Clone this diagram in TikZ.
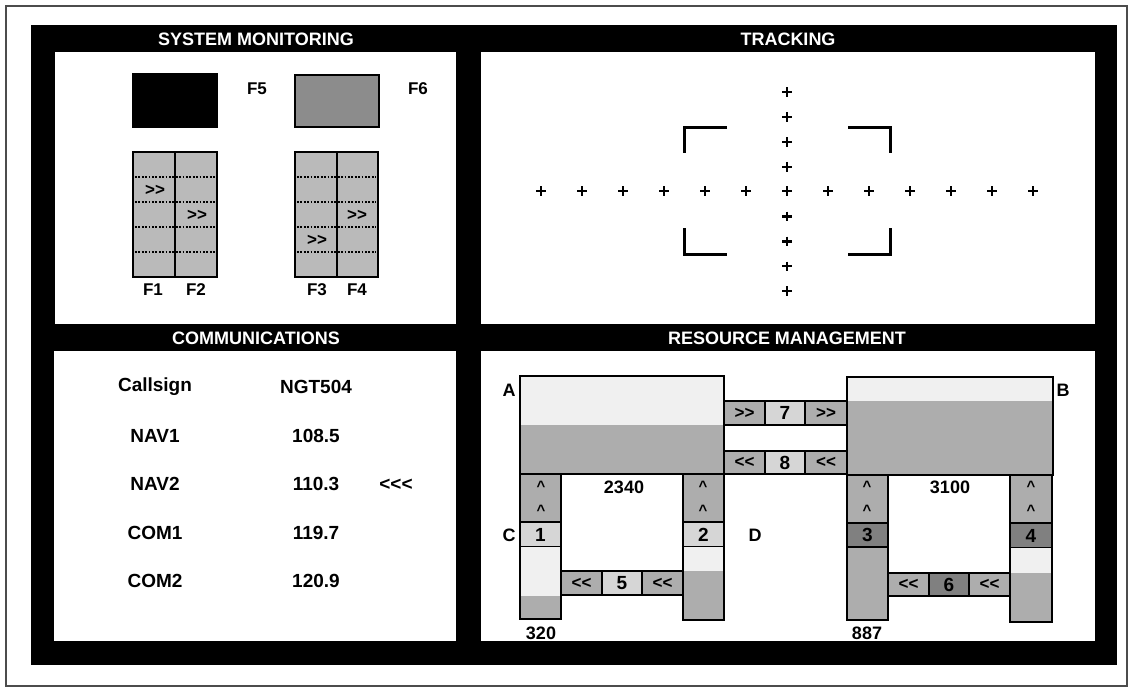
\documentclass[tikz,border=0pt]{standalone}
\usepackage{fontspec}
\setmainfont{Liberation Sans}[Ligatures=TeXOff]
\definecolor{midgray}{gray}{0.68}
\definecolor{lightcell}{gray}{0.84}
\definecolor{papergray}{gray}{0.94}
\definecolor{darkcell}{gray}{0.50}
\definecolor{fsix}{gray}{0.55}
\definecolor{fcol}{gray}{0.73}
\definecolor{framegray}{gray}{0.30}
\newcommand{\rbox}[7][]{%
 \pgfmathsetmacro\rbcx{(#3+#5)/2}%
 \pgfmathsetmacro\rbcy{(#4+#6)/2}%
 \pgfmathsetmacro\rbw{abs(#5-#3)}%
 \pgfmathsetmacro\rbh{abs(#6-#4)}%
 \node[cellbox,#1,minimum width=\rbw pt,minimum height=\rbh pt] (#2) at (\rbcx,\rbcy) {#7};}
\newcommand{\rightarr}{>{}>}
\newcommand{\leftarr}{<{}<}
\tikzset{
 cellbox/.style={draw=black,line width=1.6pt,inner sep=0pt,outer sep=0pt,
   font=\bfseries\fontsize{17}{17}\selectfont},
 hdr/.style={text=white,font=\bfseries\fontsize{18}{20}\selectfont,inner sep=0pt},
 lbl/.style={font=\bfseries\fontsize{18}{20}\selectfont,inner sep=0pt},
 flbl/.style={font=\bfseries\fontsize{17}{19}\selectfont,inner sep=0pt},
 com/.style={font=\bfseries\fontsize{19}{21}\selectfont,inner sep=0pt},
 arr/.style={font=\bfseries\fontsize{17}{18}\selectfont,inner sep=0pt},
 arrcell/.style={font=\bfseries\fontsize{17}{18}\selectfont},
 numcell/.style={font=\bfseries\fontsize{19}{19}\selectfont},
 caret/.style={font=\bfseries\fontsize{15}{17}\selectfont,inner sep=0pt},
 crossmk/.pic={\draw[line width=2.2pt] (-4.8,0)--(4.8,0) (0,-4.8)--(0,4.8);},
 bracket/.style={line width=3pt},
 dotline/.style={line width=1.8pt,dash pattern=on 1.8pt off 1.6pt}
}
\begin{document}
\begin{tikzpicture}[x=1pt,y=-1pt]
\useasboundingbox (0,0) rectangle (1132,689);
% outer frame and panels
\draw[framegray,line width=1.2pt] (6,6) rectangle (1127,686);
\fill[black] (31,25) rectangle (1117,665);
\fill[white] (55,52) rectangle (456,324);
\fill[white] (481,52) rectangle (1095,324);
\fill[white] (54,351) rectangle (456,641);
\fill[white] (481,351) rectangle (1095,641);
\node[hdr] (hSM) at (256,39) {SYSTEM MONITORING};
\node[hdr] (hTR) at (788,39) {TRACKING};
\node[hdr] (hCO) at (256,338) {COMMUNICATIONS};
\node[hdr] (hRM) at (787,338) {RESOURCE MANAGEMENT};

% ---------- SYSTEM MONITORING ----------
\rbox[fill=black]{f5box}{133}{74}{217}{127}{}
\node[flbl] (f5) at (257,89) {F5};
\rbox[fill=fsix]{f6box}{295}{75}{379}{127}{}
\node[flbl] (f6) at (418,89) {F6};
\rbox[fill=fcol]{f1}{133}{152}{175}{277}{}
\rbox[fill=fcol]{f2}{175}{152}{217}{277}{}
\rbox[fill=fcol]{f3}{295}{152}{337}{277}{}
\rbox[fill=fcol]{f4}{337}{152}{378}{277}{}
\foreach \yy in {177,202,227,252}{
  \draw[dotline] (135,\yy) -- (215,\yy);
  \draw[dotline] (297,\yy) -- (376,\yy);
}
\node[arr] (a1) at (155,190) {\rightarr};
\node[arr] (a2) at (197,215) {\rightarr};
\node[arr] (a3) at (317,240) {\rightarr};
\node[arr] (a4) at (357,215) {\rightarr};
\node[flbl] (lf1) at (153,290) {F1};
\node[flbl] (lf2) at (196,290) {F2};
\node[flbl] (lf3) at (317,290) {F3};
\node[flbl] (lf4) at (357,290) {F4};

% ---------- TRACKING ----------
\foreach \i in {0,...,12}{
  \pic (ch\i) at ({541+41*\i},191) {crossmk};
}
\foreach \j in {0,1,2,3,5,6,7,8}{
  \pic (cv\j) at (787,{92+24.9*\j}) {crossmk};
}
\draw[bracket] (727,127) -- (684,127) -- (684,153);
\draw[bracket] (848,127) -- (890,127) -- (890,153);
\draw[bracket] (684,228) -- (684,254) -- (727,254);
\draw[bracket] (890,228) -- (890,254) -- (848,254);

% ---------- COMMUNICATIONS ----------
\node[com] (c1a) at (155,387) {Callsign};
\node[com] (c1b) at (316,387) {NGT504};
\node[com] (c2a) at (155,436) {NAV1};
\node[com] (c2b) at (316,436) {108.5};
\node[com] (c3a) at (155,484) {NAV2};
\node[com] (c3b) at (316,484) {110.3};
\node[com] (c3c) at (396,485) {<{}<{}<};
\node[com] (c4a) at (155,533) {COM1};
\node[com] (c4b) at (316,533) {119.7};
\node[com] (c5a) at (155,581) {COM2};
\node[com] (c5b) at (316,581) {120.9};

% ---------- RESOURCE MANAGEMENT ----------
% box A
\rbox[fill=papergray,draw=none]{Atop}{520}{376}{724}{425}{}
\rbox[fill=midgray,draw=none]{Abot}{520}{425}{724}{474}{}
\rbox[fill=none]{A}{520}{376}{724}{474}{}
% box B
\rbox[fill=papergray,draw=none]{Btop}{847}{377}{1053}{401}{}
\rbox[fill=midgray,draw=none]{Bbot}{847}{401}{1053}{475}{}
\rbox[fill=none]{B}{847}{377}{1053}{475}{}
% bridges 7 and 8
\rbox[fill=midgray,arrcell]{r7a}{724}{401}{765}{425}{\rightarr}
\rbox[fill=lightcell,numcell]{r7}{765}{401}{805}{425}{7}
\rbox[fill=midgray,arrcell]{r7b}{805}{401}{847}{425}{\rightarr}
\rbox[fill=midgray,arrcell]{r8a}{724}{451}{765}{474}{\leftarr}
\rbox[fill=lightcell,numcell]{r8}{765}{451}{805}{474}{8}
\rbox[fill=midgray,arrcell]{r8b}{805}{451}{847}{474}{\leftarr}
% column C (under A, left)
\rbox[fill=midgray]{cCup}{520}{474}{561}{522}{}
\rbox[fill=lightcell,numcell]{n1}{520}{522}{561}{547}{1}
\rbox[fill=papergray,draw=none]{cClt}{520}{547}{561}{596}{}
\rbox[fill=midgray,draw=none]{cCdn}{520}{596}{561}{619}{}
\rbox[fill=none]{colC}{520}{474}{561}{619}{}
% column 2 (under A, right)
\rbox[fill=midgray]{c2up}{683}{474}{724}{522}{}
\rbox[fill=lightcell,numcell]{n2}{683}{522}{724}{547}{2}
\rbox[fill=papergray,draw=none]{c2lt}{683}{547}{724}{571}{}
\rbox[fill=midgray,draw=none]{c2dn}{683}{571}{724}{620}{}
\rbox[fill=none]{col2}{683}{474}{724}{620}{}
% bridge 5
\rbox[fill=midgray,arrcell]{r5a}{561}{571}{602}{595}{\leftarr}
\rbox[fill=lightcell,numcell]{n5}{602}{571}{642}{595}{5}
\rbox[fill=midgray,arrcell]{r5b}{642}{571}{683}{595}{\leftarr}
% column 3 (under B, left)
\rbox[fill=midgray]{c3up}{847}{475}{888}{523}{}
\rbox[fill=darkcell,numcell]{n3}{847}{523}{888}{547}{3}
\rbox[fill=midgray]{c3dn}{847}{547}{888}{620}{}
% column 4 (under B, right)
\rbox[fill=midgray]{c4up}{1010}{475}{1052}{523}{}
\rbox[fill=darkcell,numcell]{n4}{1010}{523}{1052}{548}{4}
\rbox[fill=papergray,draw=none]{c4lt}{1010}{548}{1052}{573}{}
\rbox[fill=midgray,draw=none]{c4dn}{1010}{573}{1052}{622}{}
\rbox[fill=none]{col4}{1010}{475}{1052}{622}{}
% bridge 6
\rbox[fill=midgray,arrcell]{r6a}{888}{573}{929}{596}{\leftarr}
\rbox[fill=darkcell,numcell]{n6}{929}{573}{969}{596}{6}
\rbox[fill=midgray,arrcell]{r6b}{969}{573}{1010}{596}{\leftarr}
% carets
\foreach \cx/\nm in {541/cc,703/ct,867/cb,1031/cd}{
  \node[caret] (\nm1) at (\cx,486) {\^{}};
  \node[caret] (\nm2) at (\cx,510) {\^{}};
}
% labels
\node[lbl] (lA) at (509,390) {A};
\node[lbl] (lB) at (1063,390) {B};
\node[lbl] (lC) at (509,535) {C};
\node[lbl] (lD) at (755,535) {D};
\node[lbl] (v2340) at (624,487) {2340};
\node[lbl] (v3100) at (950,487) {3100};
\node[lbl] (v320) at (541,633) {320};
\node[lbl] (v887) at (867,633) {887};
\end{tikzpicture}
\end{document}
